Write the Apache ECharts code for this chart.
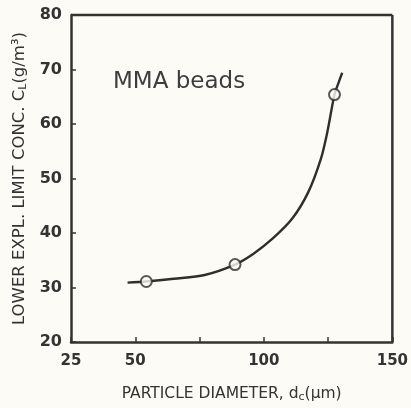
<!DOCTYPE html>
<html>
<head>
<meta charset="utf-8">
<script src="https://cdn.jsdelivr.net/npm/echarts@6/dist/echarts.min.js"></script>
<style>
html,body{margin:0;padding:0;background:#fcfbf6;}
#c{width:411px;height:408px;}
</style>
</head>
<body>
<div id="c"></div>
<script>
// Measured data points (particle diameter µm, lower explosion limit g/m3)
var pointX = [54.3, 88.8, 127.5];
var pointY = [31.1, 34.2, 65.4];
// Drawn fitted curve
var curveX = [47.0, 54.3, 65.0, 77.0, 88.8, 96.0, 103.5, 111.0, 117.3, 122.2, 124.7, 127.5, 129.1, 130.5];
var curveY = [30.9, 31.1, 31.6, 32.3, 34.2, 36.2, 39.0, 42.6, 47.5, 53.6, 58.5, 65.4, 67.6, 69.4];
// Axis ticks
var xTickLabels = [25, 50, 100, 150];
var yTicks = [20, 30, 40, 50, 60, 70, 80];

var ink = '#333333';
var chart = echarts.init(document.getElementById('c'), null, {renderer: 'canvas'});
var option = {
  backgroundColor: '#fcfbf6',
  animation: false,
  title: {
    text: 'MMA beads',
    left: 108, top: 66,
    textStyle: {color: '#3d3d3d', fontFamily: 'DejaVu Sans', fontSize: 23, fontWeight: 'normal'}
  },
  grid: {left: 71, right: 7, top: 15, bottom: 64, containLabel: false},
  xAxis: {
    type: 'value', min: 25, max: 150, interval: 25,
    name: 'PARTICLE DIAMETER, d{sub|c}(μm)',
    nameLocation: 'middle', nameGap: 43,
    nameTextStyle: {color: ink, fontFamily: 'DejaVu Sans', fontSize: 15.5,
      rich: {sub: {fontSize: 11, verticalAlign: 'bottom', padding: [7,0,0,0], color: ink}}},
    axisLine: {show: true, lineStyle: {color: ink, width: 2.5}},
    axisTick: {show: true, inside: true, length: 5, lineStyle: {color: ink, width: 1.5}},
    axisLabel: {color: ink, fontFamily: 'DejaVu Sans', fontSize: 15, fontWeight: 'bold', margin: 12,
      formatter: function (v) { return xTickLabels.indexOf(v) >= 0 ? String(v) : ''; }},
    splitLine: {show: false}
  },
  yAxis: {
    type: 'value', min: 20, max: 80, interval: 10,
    name: 'LOWER EXPL. LIMIT CONC. C{sub|L}(g/m³)',
    nameLocation: 'middle', nameGap: 42,
    nameTextStyle: {color: ink, fontFamily: 'DejaVu Sans', fontSize: 16.5,
      rich: {sub: {fontSize: 11, verticalAlign: 'bottom', padding: [7,0,0,0], color: ink}}},
    axisLine: {show: true, lineStyle: {color: ink, width: 2.5}},
    axisTick: {show: true, inside: true, length: 5, lineStyle: {color: ink, width: 1.5}},
    axisLabel: {color: ink, fontFamily: 'DejaVu Sans', fontSize: 16, fontWeight: 'bold', margin: 9,
      formatter: function (v) { return yTicks.indexOf(v) >= 0 ? String(v) : ''; }},
    splitLine: {show: false}
  },
  series: [
    {
      type: 'line', smooth: 0.3, showSymbol: false,
      data: curveX.map(function (x, i) { return [x, curveY[i]]; }),
      lineStyle: {color: '#2e2e2e', width: 2.4},
      z: 2
    },
    {
      type: 'scatter', symbol: 'circle', symbolSize: 11,
      data: pointX.map(function (x, i) { return [x, pointY[i]]; }),
      itemStyle: {color: '#fcfbf6', borderColor: '#2e2e2e', borderWidth: 2},
      z: 3
    }
  ],
  graphic: []
};
chart.setOption(option);
// frame: top and right borders drawn from the grid rect
var g = chart.getModel().getComponent('grid').coordinateSystem.getRect();
chart.setOption({graphic: [
  {type: 'line', shape: {x1: g.x, y1: g.y, x2: g.x + g.width, y2: g.y}, style: {stroke: ink, lineWidth: 2.5}, z: 1},
  {type: 'line', shape: {x1: g.x + g.width, y1: g.y, x2: g.x + g.width, y2: g.y + g.height}, style: {stroke: ink, lineWidth: 2.5}, z: 1}
]});
</script>
</body>
</html>
